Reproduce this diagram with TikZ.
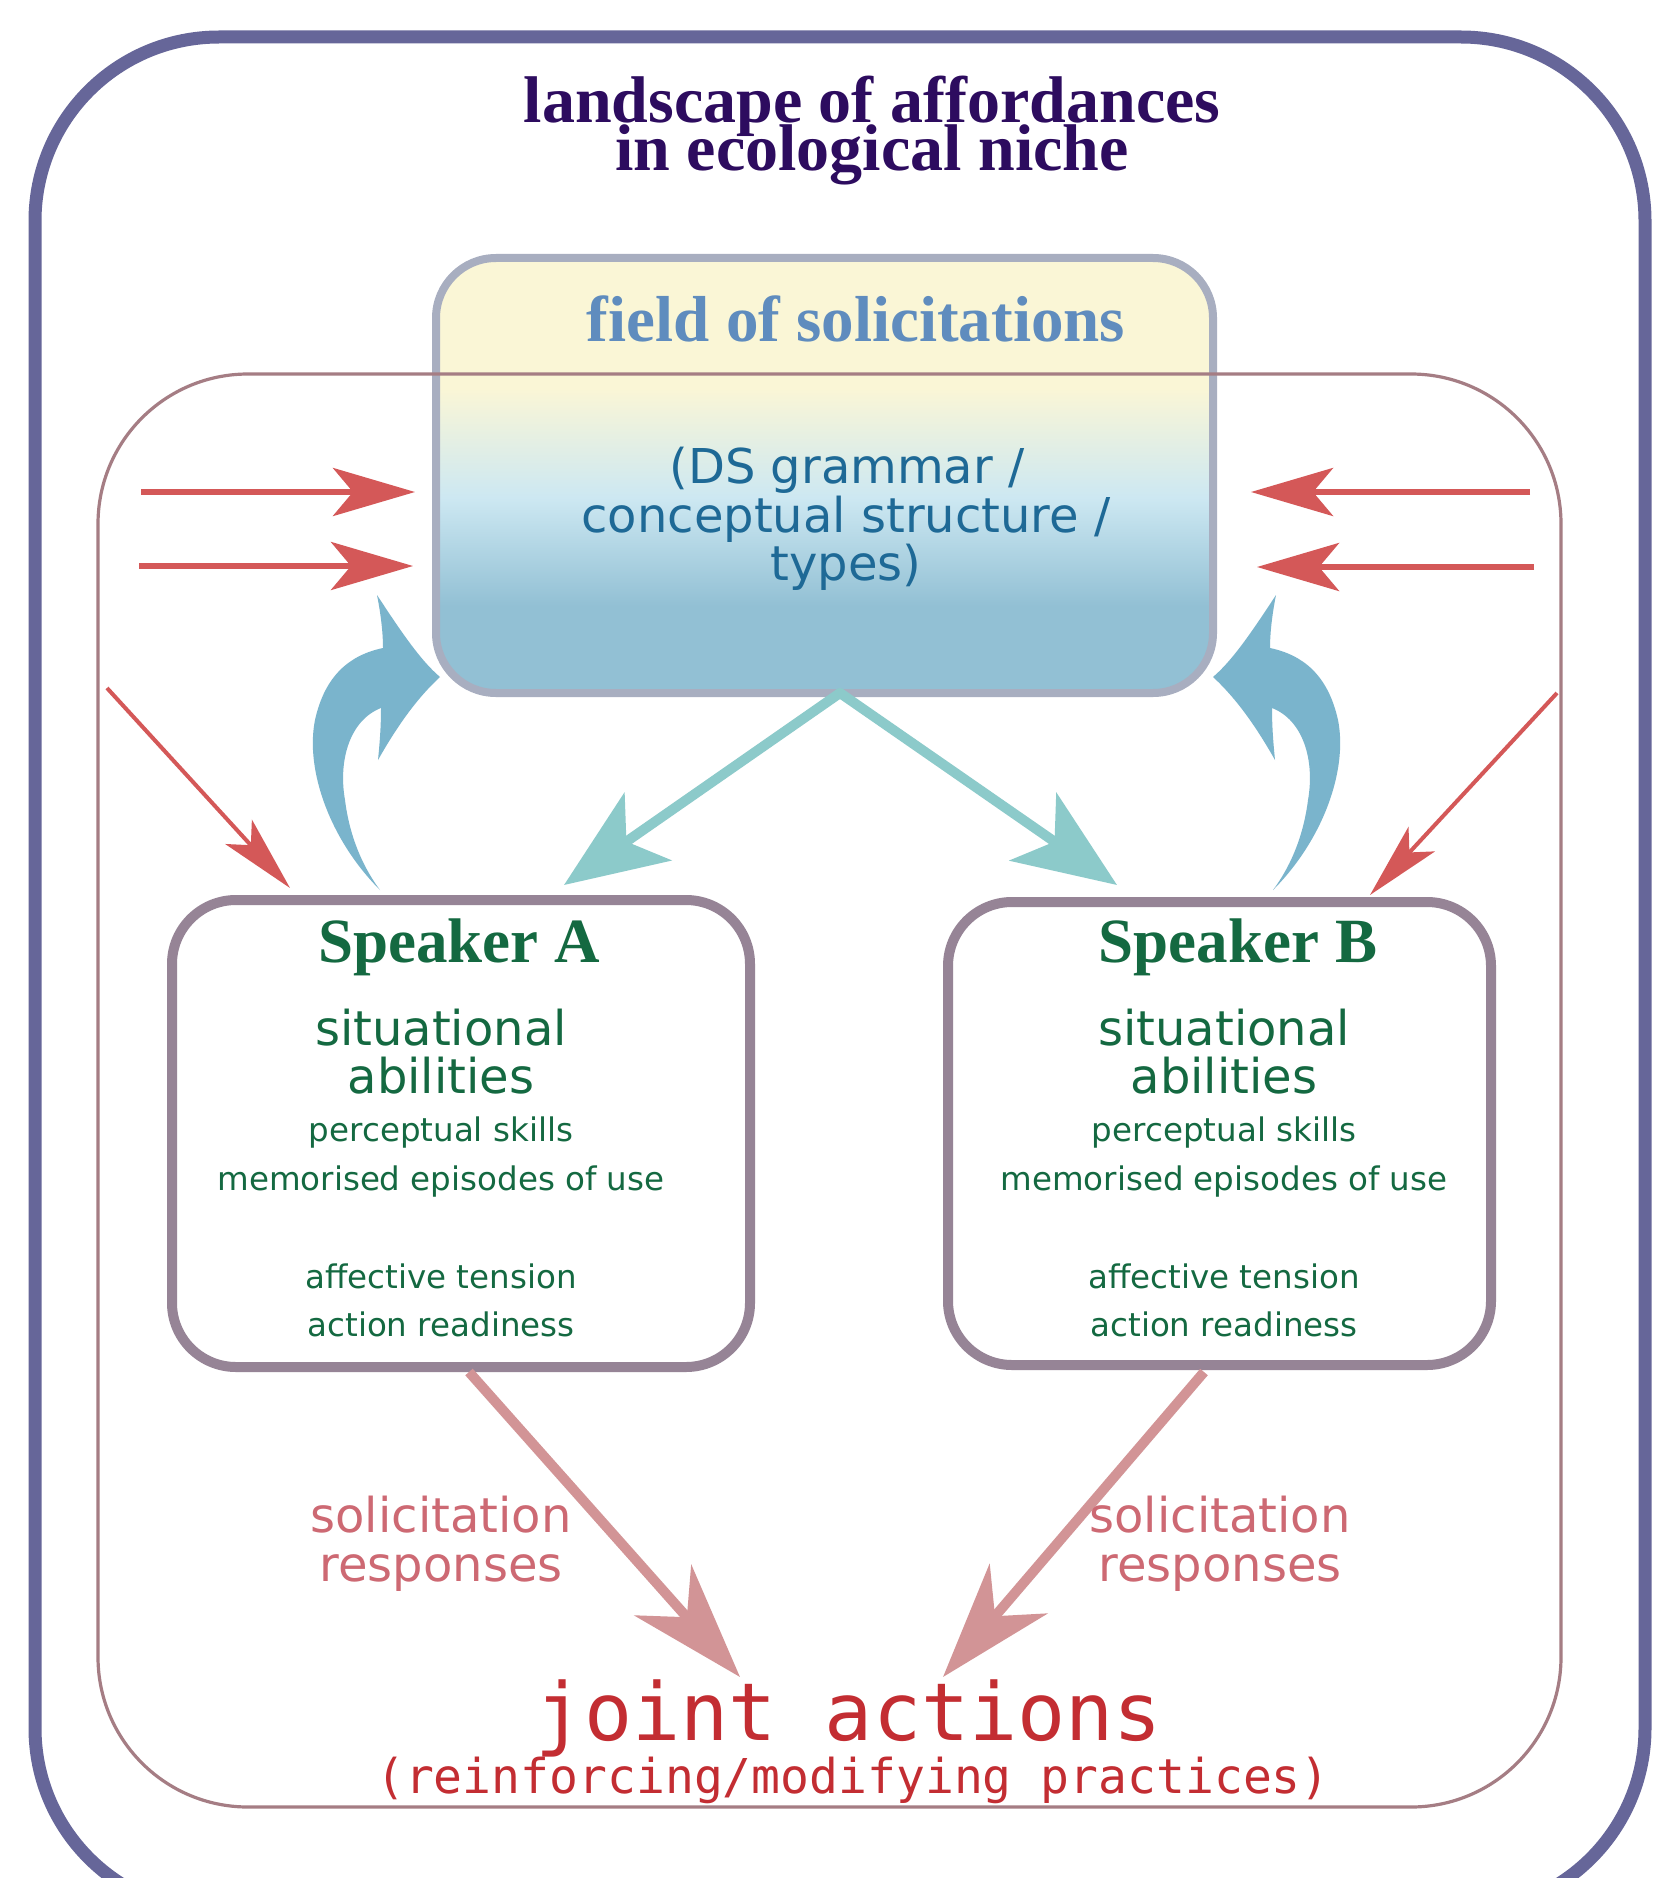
\documentclass[tikz,border=0pt]{standalone}
\usepackage{fontspec}
\usetikzlibrary{arrows.meta}
\newfontfamily\serfont{Liberation Serif}
\newfontfamily\sanfont{DejaVu Sans}
\newfontfamily\monfont{DejaVu Sans Mono}
\definecolor{outerc}{RGB}{102,102,153}
\definecolor{innerc}{RGB}{165,125,132}
\definecolor{titlec}{RGB}{45,12,95}
\definecolor{fieldtc}{RGB}{95,140,190}
\definecolor{dstc}{RGB}{30,105,150}
\definecolor{fborder}{RGB}{168,174,192}
\definecolor{fyellow}{RGB}{250,246,214}
\definecolor{flight}{RGB}{205,232,242}
\definecolor{fblue}{RGB}{146,192,212}
\definecolor{greenc}{RGB}{20,105,65}
\definecolor{spkc}{RGB}{150,132,150}
\definecolor{redtc}{RGB}{205,105,115}
\definecolor{jointc}{RGB}{195,45,50}
\definecolor{redc}{RGB}{212,88,88}
\definecolor{bluec}{RGB}{122,180,204}
\definecolor{tealc}{RGB}{140,202,202}
\definecolor{pinkc}{RGB}{210,148,150}
\pgfdeclareverticalshading{fieldshade}{100bp}{color(0bp)=(fblue); color(35bp)=(fblue); color(47.5bp)=(flight); color(60bp)=(fyellow); color(100bp)=(fyellow)}
\tikzset{
  outerbox/.style={draw=outerc, line width=6.5pt, rounded corners=92pt},
  innerbox/.style={draw=innerc, line width=1.6pt, rounded corners=75pt},
  fieldbox/.style={rectangle, rounded corners=30pt, draw=fborder, line width=4pt, shade, shading=fieldshade, inner sep=0pt},
  spkbox/.style={rectangle, rounded corners=32pt, draw=spkc, line width=5pt, fill=white, inner sep=0pt},
  redarr/.style={draw=redc, line width=3pt, -{Stealth[length=41pt,width=24pt,inset=10pt]}},
  reddiag/.style={draw=redc, line width=2pt, -{Stealth[length=38pt,width=18pt,inset=9pt]}},
  tealarr/.style={draw=tealc, line width=5pt, -{Stealth[length=51pt,width=41pt,inset=13pt]}},
  pinkarr/.style={draw=pinkc, line width=5pt, -{Stealth[length=58pt,width=38pt,inset=18pt]}},
  bluearr/.style={fill=bluec, draw=none},
  titletxt/.style={anchor=north, inner sep=0pt, align=center, text=titlec, font={\serfont\bfseries\fontsize{33}{24}\selectfont\lineskiplimit=-100pt\lineskip=0pt}},
  fieldtxt/.style={anchor=base, text=fieldtc, font={\serfont\bfseries\fontsize{32.5}{36}\selectfont}},
  dstxt/.style={anchor=base, text=dstc, font={\sanfont\fontsize{24}{28}\selectfont}},
  spktitle/.style={anchor=base, text=greenc, font={\serfont\bfseries\fontsize{31.5}{34}\selectfont}},
  spkbig/.style={anchor=base, text=greenc, font={\sanfont\fontsize{24}{28}\selectfont}},
  spksmall/.style={anchor=base, text=greenc, font={\sanfont\fontsize{16.25}{19}\selectfont}},
  resptxt/.style={anchor=base, text=redtc, font={\sanfont\fontsize{24}{28}\selectfont}},
  jointbig/.style={anchor=base, inner sep=0pt, text=jointc, font={\monfont\fontsize{40}{44}\selectfont}},
  jointsmall/.style={anchor=base, inner sep=0pt, text=jointc, font={\monfont\fontsize{24}{28}\selectfont}},
}
\begin{document}
\begin{tikzpicture}[x=0.5pt, y=-0.5pt]
\useasboundingbox (0,0) rectangle (1654,1878);
\fill[white] (0,0) rectangle (1654,1878);
\clip (0,0) rectangle (1654,1878);

% outer frame
\draw[outerbox] (35,37) rectangle (1645,1912);

% field of solicitations
\node[fieldbox, minimum width=388.5pt, minimum height=217.5pt] (field) at (824.5,475.5) {};

% inner frame
\draw[innerbox] (98,374) rectangle (1561,1807);

% title
\node[titletxt] (title) at (872,76) {landscape of affordances\\in ecological niche};

% texts: field
\node[fieldtxt] (fieldt) at (856,341) {field of solicitations};
\node[dstxt] (ds1) at (847,483) {(DS grammar /};
\node[dstxt] (ds2) at (846,532) {conceptual structure /};
\node[dstxt] (ds3) at (846,580) {types)};

% speaker boxes
\node[spkbox, minimum width=289pt, minimum height=233.5pt] (spA) at (461,1133.5) {};
\node[spkbox, minimum width=271.5pt, minimum height=231.5pt] (spB) at (1219.5,1133.5) {};

% red horizontal arrows
\coordinate (rl1) at (141,492); \coordinate (rl1t) at (415,492);
\coordinate (rl2) at (139,566); \coordinate (rl2t) at (413,566);
\coordinate (rr1) at (1530,492); \coordinate (rr1t) at (1251,492);
\coordinate (rr2) at (1534,567); \coordinate (rr2t) at (1257,567);
\draw[redarr] (rl1) -- (rl1t);
\draw[redarr] (rl2) -- (rl2t);
\draw[redarr] (rr1) -- (rr1t);
\draw[redarr] (rr2) -- (rr2t);

% red diagonal arrows
\coordinate (dl) at (107,688); \coordinate (dlt) at (290,888);
\coordinate (dr) at (1557,693); \coordinate (drt) at (1370,895);
\draw[reddiag] (dl) -- (dlt);
\draw[reddiag] (dr) -- (drt);

% teal arrows
\coordinate (apex) at (840,693);
\coordinate (tA) at (564,885);
\coordinate (tB) at (1117,885);
\draw[tealarr, line cap=round] (apex) -- (tA);
\draw[tealarr, line cap=round] (apex) -- (tB);

% blue curved arrows
\fill[bluearr] (380,890) .. controls (330,840) and (305,770) .. (315,720)
  .. controls (325,675) and (350,655) .. (383,648)
  .. controls (383,630) and (380,610) .. (377,595)
  .. controls (400,630) and (420,660) .. (440,677)
  .. controls (415,700) and (395,730) .. (378,760)
  .. controls (380,740) and (381,725) .. (381,708)
  .. controls (350,720) and (338,760) .. (345,800)
  .. controls (350,840) and (365,870) .. (380,890) -- cycle;
\fill[bluearr] (1273,890) .. controls (1323,840) and (1348,770) .. (1338,720)
  .. controls (1328,675) and (1303,655) .. (1270,648)
  .. controls (1270,630) and (1273,610) .. (1276,595)
  .. controls (1253,630) and (1233,660) .. (1213,677)
  .. controls (1238,700) and (1258,730) .. (1275,760)
  .. controls (1273,740) and (1272,725) .. (1272,708)
  .. controls (1303,720) and (1315,760) .. (1308,800)
  .. controls (1303,840) and (1288,870) .. (1273,890) -- cycle;

% pink arrows to joint actions
\coordinate (pA) at (469,1372); \coordinate (pAt) at (740,1677);
\coordinate (pB) at (1204,1372); \coordinate (pBt) at (943,1677);
\draw[pinkarr] (pA) -- (pAt);
\draw[pinkarr] (pB) -- (pBt);

% speaker A texts
\node[spktitle] (sAt) at (459,962) {Speaker A};
\node[spkbig] (sA1) at (441,1045) {situational};
\node[spkbig] (sA2) at (441,1093) {abilities};
\node[spksmall] (sA3) at (441,1141) {perceptual skills};
\node[spksmall] (sA4) at (441,1190) {memorised episodes of use};
\node[spksmall] (sA5) at (441,1288) {affective tension};
\node[spksmall] (sA6) at (441,1336) {action readiness};

% speaker B texts
\node[spktitle] (sBt) at (1238,962) {Speaker B};
\node[spkbig] (sB1) at (1224,1045) {situational};
\node[spkbig] (sB2) at (1224,1093) {abilities};
\node[spksmall] (sB3) at (1224,1141) {perceptual skills};
\node[spksmall] (sB4) at (1224,1190) {memorised episodes of use};
\node[spksmall] (sB5) at (1224,1288) {affective tension};
\node[spksmall] (sB6) at (1224,1336) {action readiness};

% solicitation responses
\node[resptxt] (rA1) at (441,1532) {solicitation};
\node[resptxt] (rA2) at (441,1581) {responses};
\node[resptxt] (rB1) at (1220,1532) {solicitation};
\node[resptxt] (rB2) at (1220,1581) {responses};

% joint actions
\node[jointbig] (ja) at (849,1740) {joint actions};
\node[jointsmall] (jb) at (853,1793) {(reinforcing/modifying practices)};
\end{tikzpicture}
\end{document}
